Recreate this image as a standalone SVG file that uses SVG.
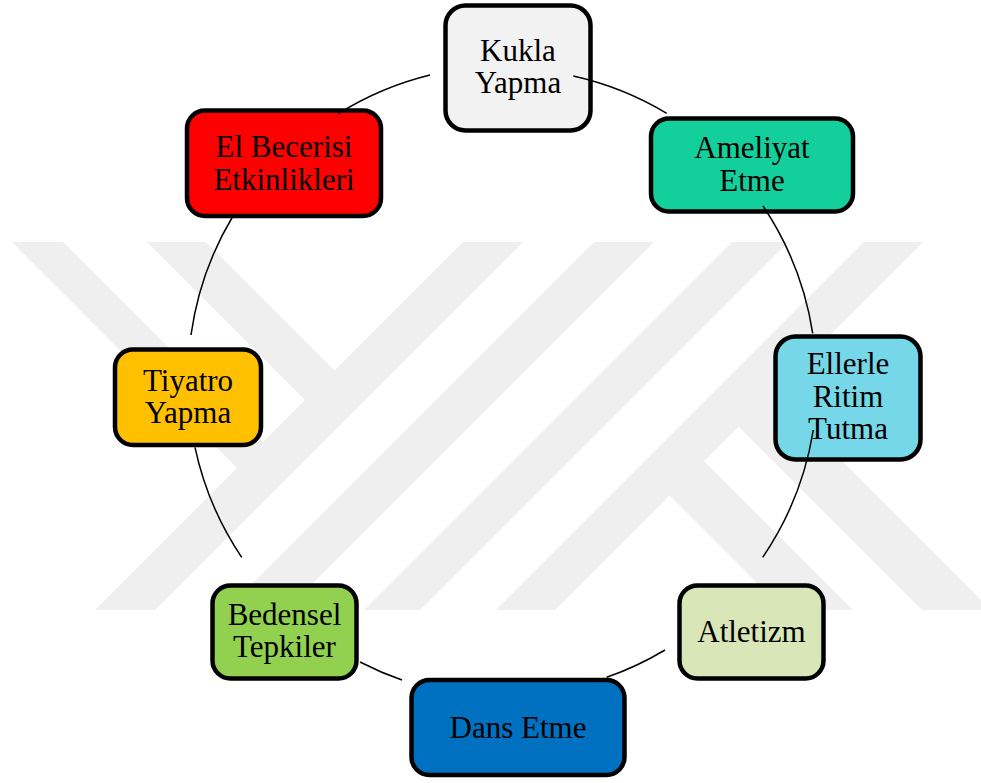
<svg xmlns="http://www.w3.org/2000/svg" width="981" height="783" viewBox="0 0 981 783">
  <style>
    .box { stroke: #000; stroke-width: 4.5; }
    .lbl { font-family: "Liberation Serif", "Times New Roman", serif; font-size: 31px; fill: #000; text-anchor: middle; }
    .arc { fill: none; stroke: #000; stroke-width: 1.5; }
    .mark { fill: #efefef; }
  </style>
  <defs>
    <clipPath id="markClip">
      <rect x="0" y="242" width="981" height="368"/>
    </clipPath>
  </defs>

  <rect width="981" height="783" fill="#fff"/>

  <!-- background emblem: diagonal bands -->
  <g id="emblem" clip-path="url(#markClip)">
    <polygon class="mark" points="463,242 523,242 151,614 91,614"/>
    <polygon class="mark" points="594,242 654,242 282,614 222,614"/>
    <polygon class="mark" points="732,242 788,242 416,614 360,614"/>
    <polygon class="mark" points="864,242 923,242 551,614 492,614"/>
    <polygon class="mark" points="12,242 63,242 278,457 252,483"/>
    <polygon class="mark" points="147,242 206,242 350,386 320,415"/>
    <polygon class="mark" points="689,446 853,610 784,610 655,481"/>
    <polygon class="mark" points="758,377 991,610 922,610 724,412"/>
  </g>

  <!-- nodes -->
  <g id="kukla">
    <rect class="box" x="445.5" y="5.5" width="145" height="125" rx="20" fill="#f2f2f2"/>
    <text class="lbl" x="518" y="61">Kukla</text>
    <text class="lbl" x="518" y="93">Yapma</text>
  </g>
  <g id="ameliyat">
    <rect class="box" x="651" y="118.5" width="202" height="93" rx="18" fill="#13cf9c"/>
    <text class="lbl" x="752" y="158">Ameliyat</text>
    <text class="lbl" x="752" y="191">Etme</text>
  </g>
  <g id="ellerle">
    <rect class="box" x="775.5" y="336.5" width="145" height="123" rx="20" fill="#75d7e7"/>
    <text class="lbl" x="848" y="374">Ellerle</text>
    <text class="lbl" x="848" y="407">Ritim</text>
    <text class="lbl" x="848" y="439">Tutma</text>
  </g>
  <g id="atletizm">
    <rect class="box" x="679.5" y="585.5" width="144" height="93" rx="18" fill="#d9e6b7"/>
    <text class="lbl" x="751.5" y="642">Atletizm</text>
  </g>
  <g id="dans">
    <rect class="box" x="411.5" y="680" width="213" height="95" rx="18" fill="#0070c0"/>
    <text class="lbl" x="518" y="738">Dans Etme</text>
  </g>
  <g id="bedensel">
    <rect class="box" x="212.5" y="585.5" width="144" height="93" rx="18" fill="#92d050"/>
    <text class="lbl" x="284.5" y="625">Bedensel</text>
    <text class="lbl" x="284.5" y="657">Tepkiler</text>
  </g>
  <g id="tiyatro">
    <rect class="box" x="115" y="349.5" width="146" height="95.5" rx="18" fill="#ffc000"/>
    <text class="lbl" x="188" y="391">Tiyatro</text>
    <text class="lbl" x="188" y="423">Yapma</text>
  </g>
  <g id="el-becerisi">
    <rect class="box" x="187" y="110.5" width="194" height="105.5" rx="18" fill="#ff0000"/>
    <text class="lbl" x="284" y="157">El Becerisi</text>
    <text class="lbl" x="284" y="190">Etkinlikleri</text>
  </g>

  <!-- cycle connectors -->
  <g id="connectors">
    <path class="arc" d="M573.3,76 A314.5,314.5 0 0 1 666.7,113.3"/>
    <path class="arc" d="M763,206 A314.5,314.5 0 0 1 812.7,333.3"/>
    <path class="arc" d="M813.3,430 A314.5,314.5 0 0 1 762.7,557.3"/>
    <path class="arc" d="M665,650 A314.5,314.5 0 0 1 606.7,677.3"/>
    <path class="arc" d="M402,680 A314.5,314.5 0 0 1 360,662"/>
    <path class="arc" d="M241.7,557.3 A314.5,314.5 0 0 1 195,447.3"/>
    <path class="arc" d="M191,335 A314.5,314.5 0 0 1 233,216"/>
    <path class="arc" d="M338.3,113.7 A314.5,314.5 0 0 1 430,75"/>
  </g>
</svg>
